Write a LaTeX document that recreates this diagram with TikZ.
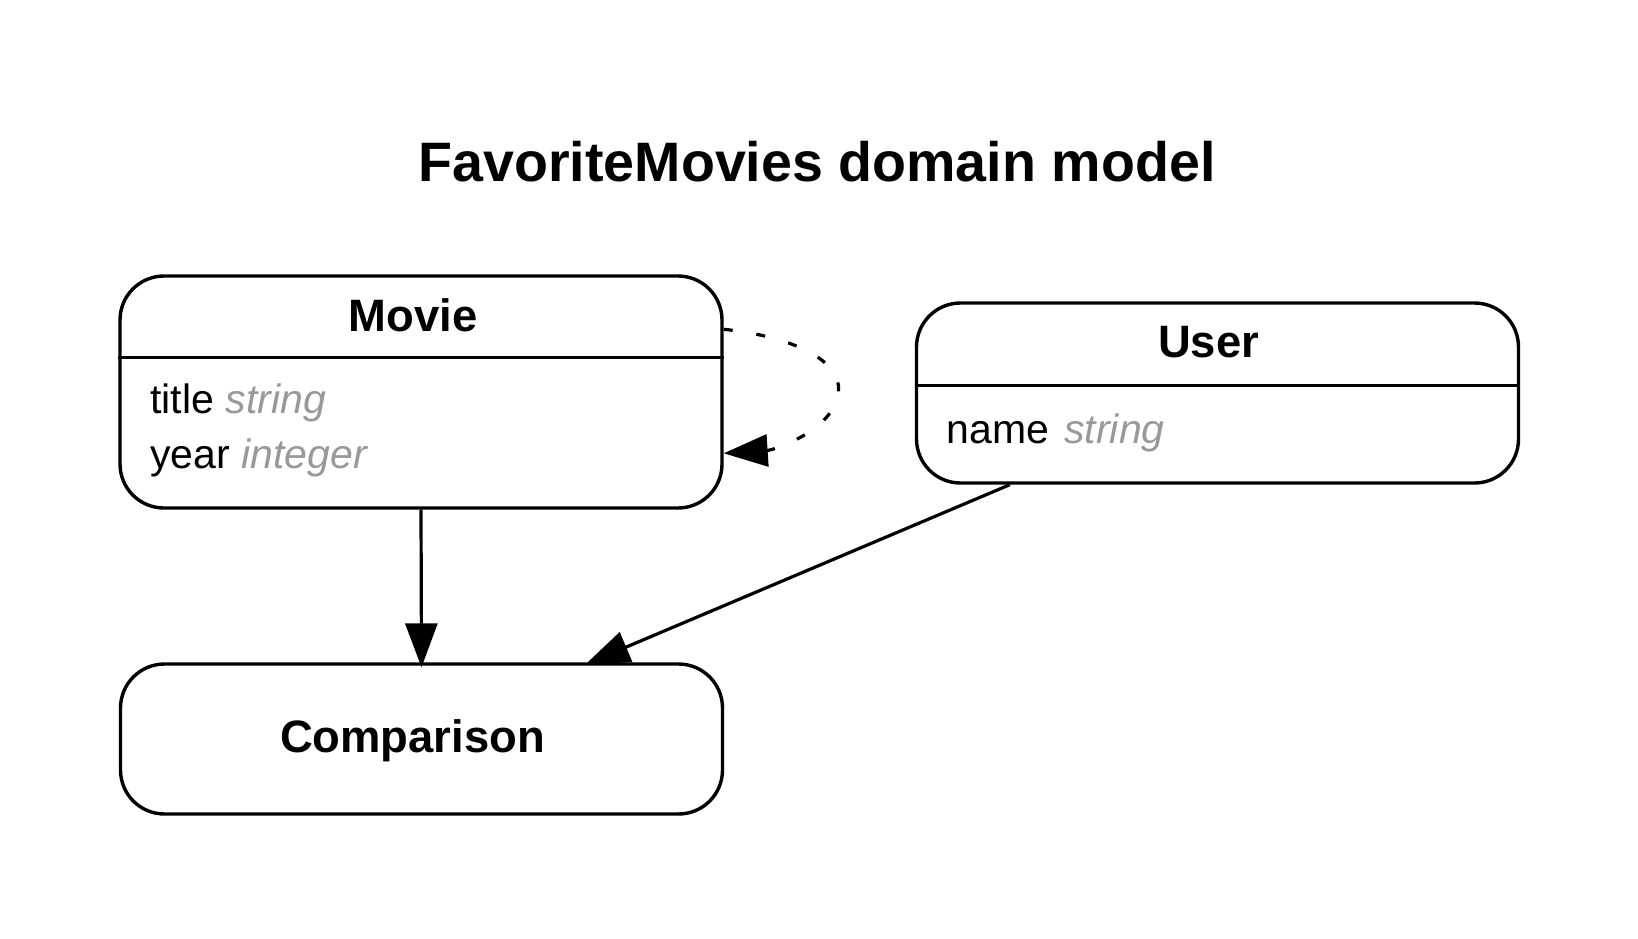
\documentclass[tikz,border=0pt]{standalone}
\usepackage{fontspec}
\setmainfont{Liberation Sans}
\usetikzlibrary{arrows.meta}
\definecolor{attrgray}{HTML}{999999}

\begin{document}
\begin{tikzpicture}[x=0.5pt,y=-0.5pt,
    entity/.style={draw,line width=1.7pt,rounded corners=22pt,inner sep=0pt,minimum width=301pt},
    heading/.style={font=\fontsize{22.7}{27}\selectfont\bfseries,anchor=base},
    attr/.style={font=\fontsize{20.5}{24}\selectfont,anchor=base west,inner sep=0pt},
    link/.style={line width=1.6pt,shorten >=-2.5pt,-{Triangle[length=22pt,width=16pt]}},
    selflink/.style={link,shorten >=0pt,dash pattern=on 4.5pt off 12pt}]
    \useasboundingbox (0,0) rectangle (1638,938);

    \node[font=\fontsize{27.8}{33}\selectfont\bfseries,anchor=base] (title) at (817,181) {FavoriteMovies domain model};

    \node[entity,minimum height=116pt] (movie) at (421,392) {};
    \node[heading] (movieheading) at (413,331) {Movie};
    \draw[line width=1.7pt] ([yshift=-41.5pt]movie.north west) -- ([yshift=-41.5pt]movie.north east);
    \node[attr] (movietitle) at (150,413) {title \textcolor{attrgray}{\itshape string}};
    \node[attr] (movieyear) at (150,468) {year \textcolor{attrgray}{\itshape integer}};

    \node[entity,minimum height=90pt] (user) at (1217.5,393) {};
    \node[heading] (userheading) at (1208.5,357) {User};
    \draw[line width=1.7pt] ([yshift=-42pt]user.north west) -- ([yshift=-42pt]user.north east);
    \node[attr] (username) at (946,443) {name\hspace{2pt} \textcolor{attrgray}{\itshape string}};

    \node[entity,minimum height=75pt] (comparison) at (421.5,739) {};
    \node[heading] (comparisonheading) at (412.5,752) {Comparison};

    \coordinate (loopout) at ([yshift=-27.5pt]movie.north east);
    \coordinate (loopin) at ([yshift=-89.5pt]movie.north east);

    \draw[link] (movie.south) -- (comparison.north);
    \draw[link] ([xshift=47.5pt]user.south west) -- ([xshift=-67pt]comparison.north east);
    \draw[selflink] (loopout) .. controls (790,336) and (845,360) .. (838,395)
        .. controls (832,430) and (775,450) .. (loopin);
\end{tikzpicture}
\end{document}
